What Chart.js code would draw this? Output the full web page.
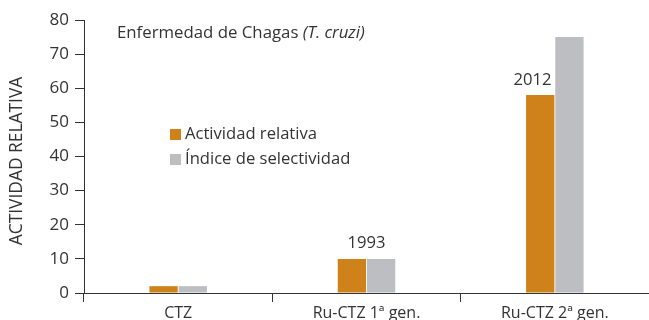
<!DOCTYPE html>
<html>
<head>
<meta charset="utf-8">
<script src="https://cdn.jsdelivr.net/npm/chart.js@4"></script>
<style>
  html, body { margin: 0; padding: 0; background: #fff; overflow: hidden; }
  canvas { display: block; }
</style>
</head>
<body>
<canvas id="chagas" width="649" height="320"></canvas>
<script>
const categories = ['CTZ', 'Ru-CTZ 1ª gen.', 'Ru-CTZ 2ª gen.'];
const actividadRelativa = [2, 10, 58];
const indiceSelectividad = [2, 10, 75];
const yTicks = [0, 10, 20, 30, 40, 50, 60, 70, 80];
const years = ['', '1993', '2012'];

const ORANGE = '#d0821a';
const GREY = '#bdbec2';
const TEXT = '#333333';
const FONT = '"Open Sans", sans-serif';

// title, legend, axis title and year labels drawn straight onto the canvas
const extras = {
  id: 'extras',
  afterDraw(chart) {
    const { ctx, chartArea, scales } = chart;
    ctx.save();
    ctx.fillStyle = TEXT;
    ctx.textBaseline = 'middle';

    // chart title with the italic species name
    ctx.font = '16.8px ' + FONT;
    ctx.textAlign = 'left';
    const t1 = 'Enfermedad de Chagas ';
    ctx.fillText(t1, 117, 33);
    const w1 = ctx.measureText(t1).width;
    ctx.font = 'italic 16.8px ' + FONT;
    ctx.fillText('(T. cruzi)', 117 + w1, 33);

    // legend
    const items = [
      { label: 'Actividad relativa', color: ORANGE, y: 134 },
      { label: 'Índice de selectividad', color: GREY, y: 159 }
    ];
    ctx.font = '16.6px ' + FONT;
    items.forEach(it => {
      ctx.fillStyle = it.color;
      ctx.fillRect(170, it.y - 5, 11, 11);
      ctx.fillStyle = TEXT;
      ctx.fillText(it.label, 185, it.y);
    });

    // y axis title
    ctx.save();
    ctx.translate(17, 161);
    ctx.rotate(-Math.PI / 2);
    ctx.textAlign = 'center';
    ctx.font = '17.4px ' + FONT;
    ctx.fillText('ACTIVIDAD RELATIVA', 0, 0);
    ctx.restore();

    // year labels above the bars
    const orangeBars = chart.getDatasetMeta(0).data;
    const greyBars = chart.getDatasetMeta(1).data;
    ctx.font = '16.6px ' + FONT;
    years.forEach((yr, i) => {
      if (!yr) return;
      if (i === 1) {
        const cx = (orangeBars[i].x + greyBars[i].x) / 2;
        const top = scales.y.getPixelForValue(Math.max(actividadRelativa[i], indiceSelectividad[i]));
        ctx.textAlign = 'center';
        ctx.fillText(yr, cx, top - 16);
      } else {
        const bar = orangeBars[i];
        ctx.textAlign = 'right';
        ctx.fillText(yr, bar.x + bar.width / 2 - 3, bar.y - 15);
      }
    });
    ctx.restore();
  }
};

new Chart(document.getElementById('chagas'), {
  type: 'bar',
  data: {
    labels: categories,
    datasets: [
      {
        label: 'Actividad relativa',
        data: actividadRelativa,
        backgroundColor: ORANGE,
        borderWidth: 0,
        categoryPercentage: 0.31,
        barPercentage: 0.97
      },
      {
        label: 'Índice de selectividad',
        data: indiceSelectividad,
        backgroundColor: GREY,
        borderWidth: 0,
        categoryPercentage: 0.31,
        barPercentage: 0.97
      }
    ]
  },
  options: {
    responsive: false,
    animation: false,
    devicePixelRatio: 1,
    layout: { padding: { top: 20, right: 0, left: 0, bottom: 0 } },
    plugins: {
      legend: { display: false },
      tooltip: { enabled: false },
      title: { display: false }
    },
    scales: {
      x: {
        afterFit(scale) { scale.height = 27; },
        grid: {
          offset: true,
          drawOnChartArea: false,
          drawTicks: true,
          tickLength: 9,
          color: '#333'
        },
        border: { color: '#333', width: 1 },
        ticks: {
          color: TEXT,
          padding: 2,
          maxRotation: 0,
          minRotation: 0,
          autoSkip: false,
          font: { family: FONT, size: 16 }
        }
      },
      y: {
        min: 0,
        max: 80,
        afterFit(scale) { scale.width = 84; },
        afterBuildTicks(scale) {
          scale.ticks = yTicks.map(v => ({ value: v }));
        },
        grid: {
          drawOnChartArea: false,
          drawTicks: true,
          tickLength: 9,
          color: '#333'
        },
        border: { color: '#333', width: 1 },
        ticks: {
          color: TEXT,
          padding: 6,
          font: { family: FONT, size: 17 }
        }
      }
    }
  },
  plugins: [extras]
});
</script>
</body>
</html>
